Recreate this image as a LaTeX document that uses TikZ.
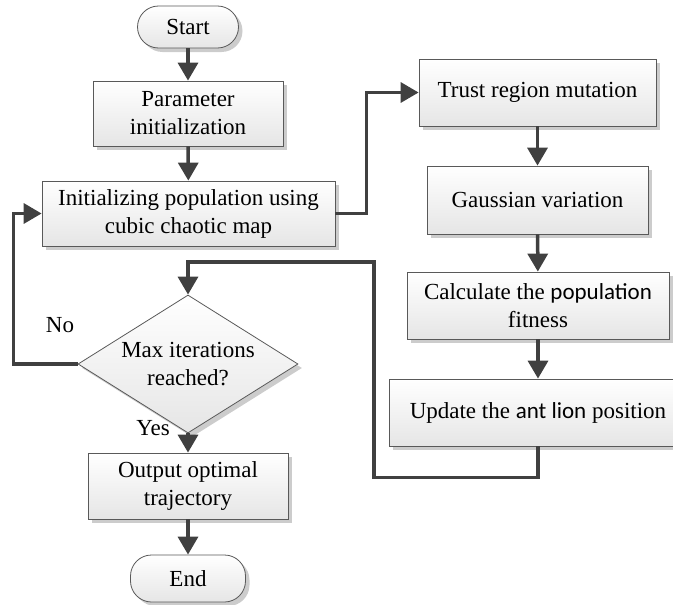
\documentclass[tikz,border=0pt]{standalone}
\usepackage{fontspec}
\setmainfont{Liberation Serif}
\newfontfamily\calfont{Carlito}
\usetikzlibrary{arrows.meta,shapes.geometric,shadows}

\begin{document}
\begin{tikzpicture}[x=1pt,y=-1pt,>={Triangle[length=18pt,width=20pt]},
        font=\fontsize{23}{28}\selectfont,
        box/.style={draw=black!65, line width=0.8pt, top color=white, bottom color=black!10,
            drop shadow={shadow xshift=4pt, shadow yshift=-4pt, fill=black!20, opacity=1},
            align=center, inner sep=0pt},
        term/.style={box, rounded corners=21pt},
        decision/.style={box, diamond, aspect=1.6, inner sep=-6pt},
        flow/.style={->, draw=black!75, line width=3.5pt}]
        \useasboundingbox (0,0) rectangle (673,605);
        \node (start) [term, minimum width=101pt, minimum height=42pt] at (188,27) {Start};
        \node (param) [box, minimum width=190pt, minimum height=65pt] at (188,113.5) {Parameter\\initialization};
        \node (init) [box, minimum width=293pt, minimum height=65pt] at (188.5,213.5) {Initializing population using\\cubic chaotic map};
        \node (trust) [box, minimum width=237pt, minimum height=67pt] at (537.5,92.5) {Trust region mutation};
        \node (gauss) [box, minimum width=221pt, minimum height=68pt] at (537.5,200) {Gaussian variation};
        \node (calc) [box, minimum width=262pt, minimum height=67pt] at (538,305.5) {Calculate the {\calfont population}\\fitness};
        \node (update) [box, minimum width=298pt, minimum height=67pt] at (538,412.5) {Update the {\calfont ant lion} position};
        \node (check) [decision, minimum width=220pt, minimum height=138pt] at (188,364) {Max iterations\\reached?};
        \node (output) [box, minimum width=200pt, minimum height=66pt] at (188,486) {Output optimal\\trajectory};
        \node (end) [term, minimum width=115pt, minimum height=47pt] at (188,578.5) {End};
        \node (no) at (60,325) {No};
        \node (yes) at (153,428) {Yes};
        \draw[flow] (start) -- (param);
        \draw[flow] (param) -- (init);
        \draw[flow] (init.east) -- ++(31,0) |- (trust.west);
        \draw[flow] (trust) -- (gauss);
        \draw[flow] (gauss) -- (calc);
        \draw[flow] (calc) -- (update);
        \draw[flow] (update.south) -- ++(0,31) -| (374,262) -| (check.north);
        \draw[flow] (check) -- (output);
        \draw[flow] (output) -- (end);
        \draw[flow] (check.west) -- ++(-64,0) |- (init.west);
    \end{tikzpicture}
\end{document}
